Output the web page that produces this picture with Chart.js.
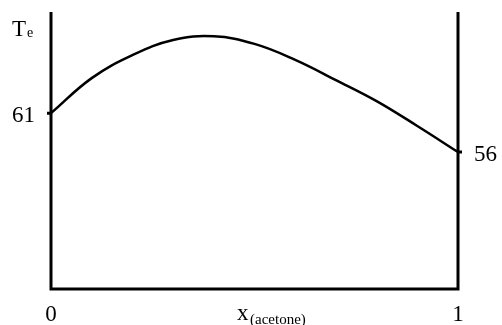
<!DOCTYPE html>
<html>
<head>
<meta charset="utf-8">
<script src="https://cdn.jsdelivr.net/npm/chart.js@4"></script>
<style>
  html, body { margin: 0; padding: 0; background: #fff; }
  #wrap { width: 502px; height: 325px; position: relative; }
</style>
</head>
<body>
<div id="wrap"><canvas id="teChart"></canvas></div>
<script>
// mole fraction of acetone and boiling temperature
const xAcetone = [0, 0.1, 0.2, 0.3, 0.4, 0.5, 0.6, 0.7, 0.8, 0.9, 1];
const tempValues = [61, 65.5, 68.45, 70.4, 70.87, 69.9, 67.85, 65.25, 62.55, 59.35, 56];
const leftTick = 61;
const rightTick = 56;
const xTicks = [0, 1];

const FONT = '"Liberation Serif", "Times New Roman", serif';

const axesPlugin = {
    id: 'axesPlugin',
    afterDraw(chart) {
        const ctx = chart.ctx;
        const a = chart.chartArea;
        const xs = chart.scales.x;
        const ys = chart.scales.y;
        ctx.save();
        ctx.strokeStyle = '#000';
        ctx.lineWidth = 3;
        ctx.lineCap = 'butt';
        // left axis, bottom axis, right axis
        ctx.beginPath();
        ctx.moveTo(a.left, a.top);
        ctx.lineTo(a.left, a.bottom);
        ctx.lineTo(a.right, a.bottom);
        ctx.lineTo(a.right, a.top);
        ctx.stroke();

        // small ticks
        const yl = ys.getPixelForValue(leftTick);
        const yr = ys.getPixelForValue(rightTick);
        ctx.beginPath();
        ctx.moveTo(a.left - 4, yl); ctx.lineTo(a.left, yl);
        ctx.moveTo(a.right, yr); ctx.lineTo(a.right + 4, yr);
        ctx.stroke();

        ctx.fillStyle = '#000';
        ctx.font = '23px ' + FONT;
        ctx.textBaseline = 'middle';
        ctx.textAlign = 'right';
        ctx.fillText(String(leftTick), a.left - 16, yl + 3);
        ctx.textAlign = 'left';
        ctx.fillText(String(rightTick), a.right + 16, yr + 3);

        ctx.textAlign = 'center';
        ctx.textBaseline = 'alphabetic';
        xTicks.forEach(v => {
            ctx.fillText(String(v), xs.getPixelForValue(v), a.bottom + 32);
        });

        // x(acetone)
        ctx.textAlign = 'left';
        ctx.font = '23px ' + FONT;
        ctx.fillText('x', 237, a.bottom + 31);
        ctx.font = '15px ' + FONT;
        ctx.fillText('(acetone)', 250, a.bottom + 35);

        // Te
        ctx.font = '23px ' + FONT;
        ctx.fillText('T', 12, 36);
        ctx.font = '14px ' + FONT;
        ctx.fillText('e', 27, 37);
        ctx.restore();
    }
};

new Chart(document.getElementById('teChart').getContext('2d'), {
    type: 'line',
    data: {
        datasets: [{
            data: xAcetone.map((x, i) => ({ x: x, y: tempValues[i] })),
            borderColor: '#000',
            borderWidth: 2.5,
            pointRadius: 0,
            tension: 0.4,
            fill: false
        }]
    },
    options: {
        responsive: true,
        maintainAspectRatio: false,
        animation: false,
        layout: { padding: { left: 51, right: 44, top: 12, bottom: 36 } },
        plugins: { legend: { display: false }, tooltip: { enabled: false } },
        scales: {
            x: { type: 'linear', min: 0, max: 1, display: false },
            y: { min: 38.4, max: 74, display: false }
        }
    },
    plugins: [axesPlugin]
});
</script>
</body>
</html>
